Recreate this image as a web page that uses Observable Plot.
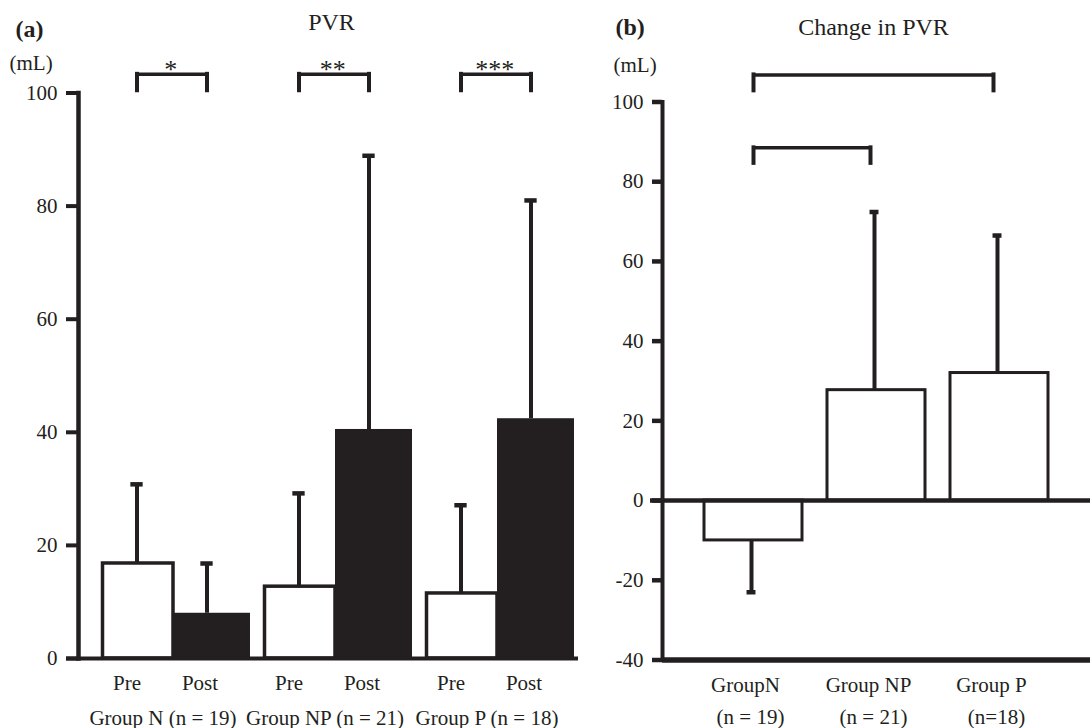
<!DOCTYPE html>
<html><head><meta charset="utf-8">
<script src="https://cdn.jsdelivr.net/npm/d3@7"></script>
<script src="https://cdn.jsdelivr.net/npm/@observablehq/plot@0.6"></script>
<style>
html,body{margin:0;padding:0;background:#fff;}
#wrap{display:flex;width:1090px;height:728px;overflow:hidden;}
#wrap svg{display:block;flex:none;}
</style></head><body><div id="wrap"></div>
<script>
// ---------- Panel (a): PVR before / after ----------
const groupsA = ["Group N (n = 19)", "Group NP (n = 21)", "Group P (n = 18)"];
const phases = ["Pre", "Post"];
const preMean = [16.8, 12.7, 11.5];
const preSD = [14.0, 16.5, 15.6];
const postMean = [8.0, 40.5, 42.4];
const postSD = [8.8, 48.4, 38.6];
const sigLabels = ["*", "**", "***"];
const sigTopA = [103.3, 103.3, 103.3];
const sigLegA = [100.4, 100.4, 100.4];
const yTicksA = [0, 20, 40, 60, 80, 100];
const titleA = "PVR", tagA = "(a)", unitLabel = "(mL)";

// ---------- Panel (b): change in PVR ----------
const groupsB = ["GroupN", "Group NP", "Group P"];
const nLabelsB = ["(n = 19)", "(n = 21)", "(n=18)"];
const changeMean = [-10.0, 27.7, 32.0];
const changeSD = [13.0, 44.7, 34.5];
const compareFrom = ["GroupN", "GroupN"];
const compareTo = ["Group NP", "Group P"];
const compareTop = [88.5, 106.8];
const compareLeg = [84.6, 102.8];
const yTicksB = [-40, -20, 0, 20, 40, 60, 80, 100];
const titleB = "Change in PVR", tagB = "(b)";

const ink = "#231f20";
const font = "'Liberation Serif', 'Times New Roman', serif";

// ---------- build panel (a) ----------
const barsA = groupsA.flatMap((g, i) => [
  {key: g + "|" + phases[0], group: g, phase: phases[0], mean: preMean[i], sd: preSD[i]},
  {key: g + "|" + phases[1], group: g, phase: phases[1], mean: postMean[i], sd: postSD[i]}
]);
const bracketsA = groupsA.map((g, i) => ({
  pre: g + "|" + phases[0], post: g + "|" + phases[1], label: sigLabels[i], top: sigTopA[i], leg: sigLegA[i]
}));
const isPre = d => d.phase === phases[0];
const isPost = d => d.phase === phases[1];

const WA = 580, WB = 510, H = 728;
const mlA = 78, mrA = 2, poA = 0.061;
const bwA = (WA - mlA - mrA) / (barsA.length + 2 * poA);
const dxPre = 4, dxPost = -7, capA = 13;

function errA(filter, dx) {
  return [
    Plot.ruleX(barsA, {filter, x: "key", y1: "mean", y2: d => d.mean + d.sd, dx, stroke: ink, strokeWidth: 4}),
    Plot.tickY(barsA, {filter, x: "key", y: d => d.mean + d.sd, dx, insetLeft: (bwA - capA) / 2, insetRight: (bwA - capA) / 2, stroke: ink, strokeWidth: 4.5})
  ];
}

const chartA = Plot.plot({
  width: WA, height: H,
  marginLeft: mlA, marginRight: mrA, marginTop: 92.5, marginBottom: 70,
  style: {fontFamily: font, fontSize: "21px", color: ink, background: "white", overflow: "visible"},
  x: {domain: barsA.map(d => d.key), paddingInner: 0, paddingOuter: poA, align: 1, axis: null},
  y: {domain: [yTicksA[0], yTicksA[yTicksA.length - 1]]},
  marks: [
    Plot.barY(barsA, {filter: isPre, x: "key", y1: 0, y2: "mean", fill: "white", stroke: ink, strokeWidth: 3.5, insetLeft: 10.5, insetRight: 0}),
    Plot.barY(barsA, {filter: isPost, x: "key", y1: 0, y2: "mean", fill: ink, insetLeft: 0, insetRight: 4}),
    ...errA(isPre, dxPre),
    ...errA(isPost, dxPost),
    Plot.ruleY([yTicksA[0]], {stroke: ink, strokeWidth: 4, insetLeft: -12}),
    Plot.frame({anchor: "left", stroke: ink, strokeWidth: 4.5}),
    Plot.axisY(yTicksA, {tickSize: 12, strokeWidth: 4, tickFormat: () => ""}),
    Plot.text(yTicksA, {y: d => d, text: d => String(d), frameAnchor: "left", textAnchor: "end", dx: -21, fontSize: 21, fill: ink}),
    // significance brackets
    Plot.ruleY(bracketsA, {x1: "pre", x2: "post", y: "top", insetLeft: bwA / 2 + dxPre, insetRight: bwA / 2 - dxPost, stroke: ink, strokeWidth: 3.5}),
    Plot.ruleX(bracketsA, {x: "pre", y1: "leg", y2: "top", dx: dxPre, stroke: ink, strokeWidth: 4, strokeLinecap: "square"}),
    Plot.ruleX(bracketsA, {x: "post", y1: "leg", y2: "top", dx: dxPost, stroke: ink, strokeWidth: 4, strokeLinecap: "square"}),
    Plot.text(bracketsA, {x: "pre", y: "top", text: "label", dx: bwA / 2 - 3, dy: 4, lineAnchor: "bottom", fontSize: 26, fill: ink}),
    // x labels
    Plot.text(barsA, {filter: isPre, x: "key", text: "phase", frameAnchor: "bottom", lineAnchor: "bottom", dy: 31, dx: -6, fontSize: 21, fill: ink}),
    Plot.text(barsA, {filter: isPost, x: "key", text: "phase", frameAnchor: "bottom", lineAnchor: "bottom", dy: 31, dx: -14, fontSize: 21, fill: ink}),
    Plot.text(barsA, {filter: isPre, x: "key", text: "group", frameAnchor: "bottom", lineAnchor: "bottom", dy: 66, dx: 30, fontSize: 21, fill: ink}),
    // titles
    Plot.text([titleA], {text: d => d, frameAnchor: "top", lineAnchor: "bottom", dx: 3, dy: -63, fontSize: 24, fill: ink}),
    Plot.text([tagA], {text: d => d, frameAnchor: "top-left", textAnchor: "start", lineAnchor: "bottom", dx: -63, dy: -56.5, fontSize: 24, fontWeight: "bold", fill: ink}),
    Plot.text([unitLabel], {text: d => d, frameAnchor: "top-left", textAnchor: "start", lineAnchor: "bottom", dx: -69, dy: -23, fontSize: 21, fill: ink})
  ]
});

// ---------- build panel (b) ----------
const barsB = groupsB.map((g, i) => ({group: g, n: nLabelsB[i], mean: changeMean[i], sd: changeSD[i]}));
const comparisons = compareFrom.map((f, i) => ({from: f, to: compareTo[i], top: compareTop[i], leg: compareLeg[i]}));
const mlB = 82, mrB = 0, piB = 0.206, poB = 0.336;
const stepB = (WB - mlB - mrB) / (groupsB.length - piB + 2 * poB);
const bwB = stepB * (1 - piB);
const capB = 9, dxTo = -6;
const errEnd = d => d.mean + Math.sign(d.mean) * d.sd;

const chartB = Plot.plot({
  width: WB, height: H,
  marginLeft: mlB, marginRight: mrB, marginTop: 101.5, marginBottom: 68.5,
  style: {fontFamily: font, fontSize: "21px", color: ink, background: "white", overflow: "visible"},
  x: {domain: groupsB, paddingInner: piB, paddingOuter: poB, axis: null},
  y: {domain: [yTicksB[0], yTicksB[yTicksB.length - 1]]},
  marks: [
    Plot.barY(barsB, {x: "group", y1: 0, y2: "mean", fill: "white", stroke: ink, strokeWidth: 3}),
    Plot.ruleX(barsB, {x: "group", y1: "mean", y2: errEnd, dx: -2, stroke: ink, strokeWidth: 4}),
    Plot.tickY(barsB, {x: "group", y: errEnd, dx: -2, insetLeft: (bwB - capB) / 2, insetRight: (bwB - capB) / 2, stroke: ink, strokeWidth: 4.5}),
    Plot.ruleY([0], {stroke: ink, strokeWidth: 4.5, insetLeft: -12}),
    Plot.ruleY([yTicksB[0]], {stroke: ink, strokeWidth: 5.5}),
    Plot.frame({anchor: "left", stroke: ink, strokeWidth: 4}),
    Plot.axisY(yTicksB, {tickSize: 10, strokeWidth: 4.5, tickFormat: () => ""}),
    Plot.text(yTicksB, {y: d => d, text: d => String(d), frameAnchor: "left", textAnchor: "end", dx: -19, fontSize: 21, fill: ink}),
    // comparison brackets
    Plot.ruleY(comparisons, {x1: "from", x2: "to", y: "top", insetLeft: bwB / 2, insetRight: bwB / 2 - dxTo, stroke: ink, strokeWidth: 3.5}),
    Plot.ruleX(comparisons, {x: "from", y1: "leg", y2: "top", stroke: ink, strokeWidth: 4, strokeLinecap: "square"}),
    Plot.ruleX(comparisons, {x: "to", y1: "leg", y2: "top", dx: dxTo, stroke: ink, strokeWidth: 4, strokeLinecap: "square"}),
    // x labels
    Plot.text(barsB, {x: "group", text: "group", frameAnchor: "bottom", lineAnchor: "bottom", dy: 31.5, dx: -8, fontSize: 21, fill: ink}),
    Plot.text(barsB, {x: "group", text: "n", frameAnchor: "bottom", lineAnchor: "bottom", dy: 63.5, dx: -3, fontSize: 21, fill: ink}),
    // titles
    Plot.text([titleB], {text: d => d, frameAnchor: "top", lineAnchor: "bottom", dx: -3, dy: -67.5, fontSize: 24, fill: ink}),
    Plot.text([tagB], {text: d => d, frameAnchor: "top-left", textAnchor: "start", lineAnchor: "bottom", dx: -47, dy: -67, fontSize: 24, fontWeight: "bold", fill: ink}),
    Plot.text([unitLabel], {text: d => d, frameAnchor: "top-left", textAnchor: "start", lineAnchor: "bottom", dx: -49, dy: -30, fontSize: 21, fill: ink})
  ]
});

const wrap = document.getElementById("wrap");
wrap.appendChild(chartA);
wrap.appendChild(chartB);
</script>
</body></html>
